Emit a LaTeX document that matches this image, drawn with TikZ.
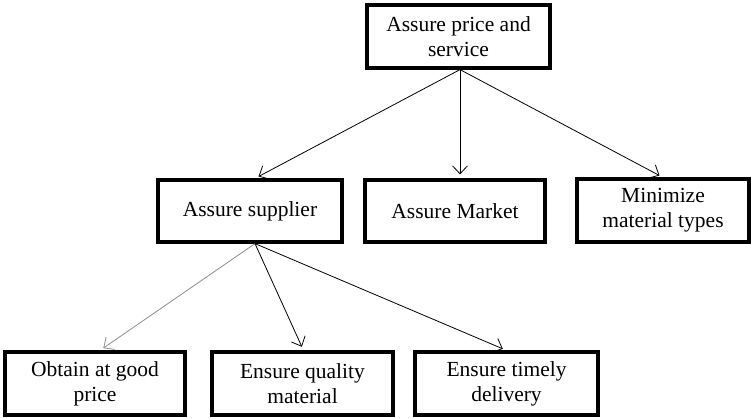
\documentclass[tikz,border=0pt]{standalone}
\usepackage{fontspec}
\setmainfont{Liberation Serif}
\usetikzlibrary{arrows.meta}
\begin{document}
\begin{tikzpicture}[x=1pt,y=-1pt,
  box/.style={draw, line width=3.2pt, align=center, inner sep=0pt,
    minimum height=63pt, font=\fontsize{21.5}{25}\selectfont},
  link/.style={line width=0.8pt, -{Straight Barb[length=8pt,width=15pt,line width=0.8pt]}, shorten >=4pt}]
  \useasboundingbox (0,0) rectangle (751,417);

  % goal at the top
  \node[box, minimum width=183pt] (goal) at (458.5,36.5) {Assure price and\\service};

  % second level
  \node[box, minimum width=184pt, minimum height=62pt] (supplier) at (250,211) {Assure supplier};
  \node[box, minimum width=180pt, minimum height=62pt] (market) at (455,211) {Assure Market};
  \node[box, minimum width=172pt] (types) at (663,210.5) {Minimize\\material types};

  % third level
  \node[box, minimum width=180pt] (price) at (95,383.5) {Obtain at good\\price};
  \node[box, minimum width=181pt] (quality) at (302.5,383.5) {Ensure quality\\material};
  \node[box, minimum width=183pt] (timely) at (506.5,383.5) {Ensure timely\\delivery};

  % connectors
  \draw[link] ([xshift=1.5pt]goal.south) -- ([xshift=5pt]supplier.north);
  \draw[link] ([xshift=1.5pt]goal.south) -- ([xshift=5pt]market.north);
  \draw[link] ([xshift=1.5pt]goal.south) -- (types.north);
  \draw[link, draw=black!45] ([xshift=5pt]supplier.south) -- ([xshift=5pt]price.north);
  \draw[link] ([xshift=5pt]supplier.south) -- ([xshift=1pt]quality.north);
  \draw[link] ([xshift=5pt]supplier.south) -- (timely.north);
\end{tikzpicture}
\end{document}
